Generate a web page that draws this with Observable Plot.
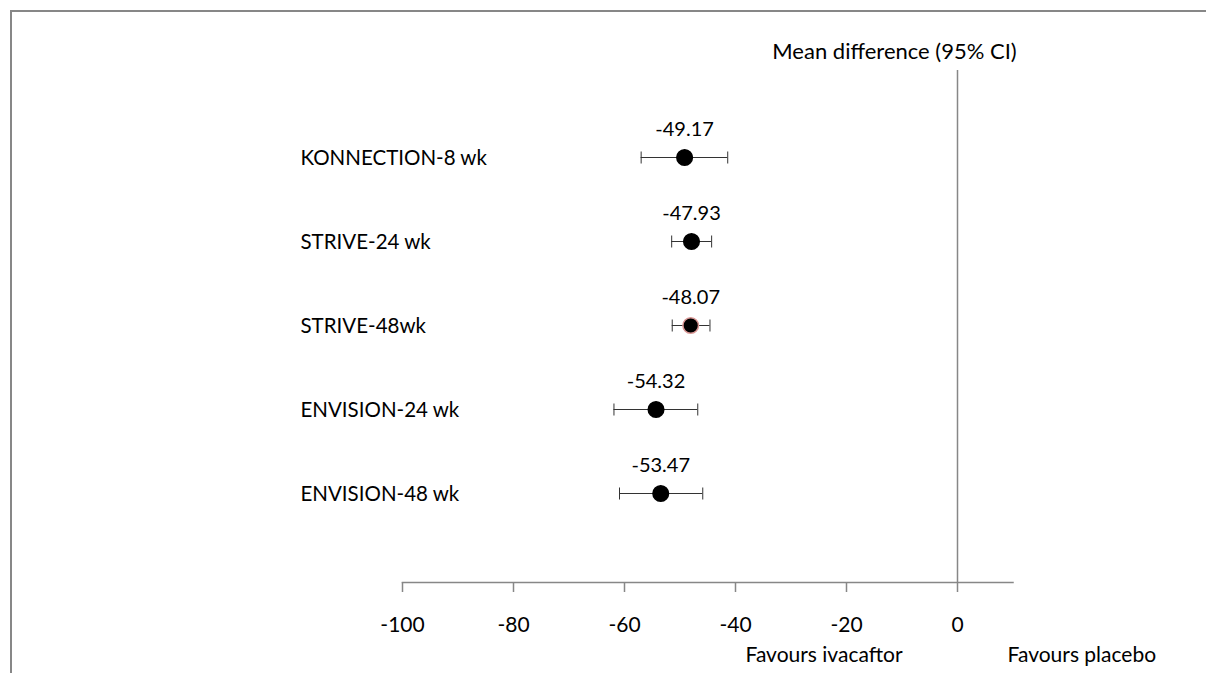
<!DOCTYPE html>
<html><head><meta charset="utf-8">
<script src="https://cdn.jsdelivr.net/npm/d3@7"></script>
<script src="https://cdn.jsdelivr.net/npm/@observablehq/plot@0.6"></script>
<style>
body{margin:0;background:#fff;}
#wrap{position:relative;width:1206px;height:673px;overflow:hidden;}
#border{position:absolute;left:10px;top:10px;width:1206px;height:700px;border-top:2px solid #878787;border-left:2px solid #878787;}
#wrap svg{position:absolute;left:0;top:0;}
</style></head><body><div id="wrap"><div id="border"></div></div>
<script>
const studies = ["KONNECTION-8 wk", "STRIVE-24 wk", "STRIVE-48wk", "ENVISION-24 wk", "ENVISION-48 wk"];
const meanDiff = [-49.17, -47.93, -48.07, -54.32, -53.47];
const ciLow = [-57.0, -51.5, -51.4, -61.9, -60.9];
const ciHigh = [-41.4, -44.3, -44.6, -46.8, -45.9];
const xTicks = [-100, -80, -60, -40, -20, 0];
const headerText = ["Mean difference (95% CI)"];
const headerX = [-11.35];
const favourText = ["Favours ivacaftor", "Favours placebo"];
const favourX = [-24.05, 22.4];

const data = studies.map((s, i) => ({study: s, mean: meanDiff[i], lo: ciLow[i], hi: ciHigh[i]}));
const capSymbol = {draw(ctx, size) { const h = Math.sqrt(size / Math.PI); ctx.moveTo(0, -h); ctx.lineTo(0, h); }};
const FONT = "Lato";
const plot = Plot.plot({
  width: 1206, height: 673,
  marginLeft: 402, marginRight: 193.5, marginTop: 70, marginBottom: 91,
  style: {fontFamily: FONT, background: "transparent", color: "black"},
  x: {domain: [-100, 10], axis: null},
  y: {type: "point", domain: studies, range: [156, 493.5], padding: 0, axis: null},
  marks: [
    Plot.ruleX([0], {stroke: "#878787", strokeWidth: 1.5}),
    Plot.frame({anchor: "bottom", stroke: "#878787", strokeWidth: 1.5}),
    Plot.axisX({ticks: xTicks, tickSize: 10, tickFormat: () => "", color: "#878787", strokeWidth: 1.5, label: null}),
    Plot.axisX({ticks: xTicks, tickSize: 0, tickPadding: 35, tickFormat: d => String(d), fontSize: 21, color: "black", label: null}),
    Plot.ruleY(data, {y: "study", x1: "lo", x2: "hi", stroke: "#333", strokeWidth: 1}),
    Plot.dot(data, {y: "study", x: "lo", symbol: capSymbol, r: 6, stroke: "#333", strokeWidth: 1}),
    Plot.dot(data, {y: "study", x: "hi", symbol: capSymbol, r: 6, stroke: "#333", strokeWidth: 1}),
    Plot.dot(data, {y: "study", x: "mean", r: 7.8, fill: "black",
      stroke: d => d.study === "STRIVE-48wk" ? "#d99694" : "black", strokeWidth: 1.5}),
    Plot.text(data, {y: "study", x: "mean", text: d => d.mean.toFixed(2), dy: -28, fontSize: 20, fill: "black"}),
    Plot.text(data, {y: "study", text: "study", frameAnchor: "left", textAnchor: "start", dx: -102, dy: 1, fontSize: 20.5, fill: "black"}),
    Plot.text(headerText, {x: (d, i) => headerX[i], text: d => d, frameAnchor: "top", dy: -27, fontSize: 22, fill: "black"}),
    Plot.text(favourText, {x: (d, i) => favourX[i], text: d => d, frameAnchor: "bottom", dy: 79, fontSize: 21, fill: "black"})
  ]
});
document.getElementById("wrap").appendChild(plot);
</script>
</body></html>
